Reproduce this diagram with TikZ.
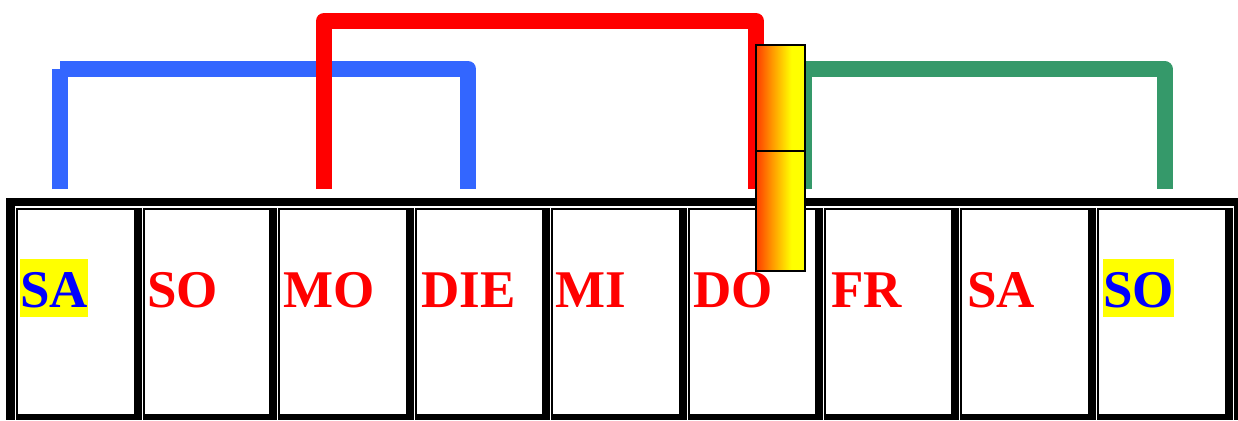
\documentclass[tikz,border=0pt]{standalone}
\usepackage{fontspec}
\setmainfont{Liberation Serif}
\usetikzlibrary{positioning}
\definecolor{barblue}{RGB}{51,102,255}
\definecolor{barred}{RGB}{255,0,0}
\definecolor{bargreen}{RGB}{53,153,106}
\definecolor{firered}{RGB}{255,60,0}
\definecolor{fireorange}{RGB}{255,150,0}
\definecolor{markyellow}{RGB}{255,255,0}
\definecolor{markblue}{RGB}{0,0,255}
\pgfdeclarehorizontalshading{fire}{100bp}{color(0bp)=(firered); color(25bp)=(firered); color(41bp)=(fireorange); color(61bp)=(yellow); color(100bp)=(yellow)}

\begin{document}
\begin{tikzpicture}[
    x=1pt, y=-1pt,
    daybar/.style={line width=16pt, line join=round},
    day/.style={anchor=base west, inner sep=0pt, text height=48pt, text depth=10pt, font=\fontsize{53}{60}\selectfont\bfseries, text=red},
    weekend/.style={day, fill=markyellow, text=markblue},
    slider/.style={draw=black, line width=1.3pt, shade, shading=fire, minimum width=49pt, inner sep=0pt, outer sep=0pt}
]
\useasboundingbox (0,0) rectangle (1238,420);
\fill[black] (6,198) rectangle (1238,420);
\fill[white] (15,206.3) rectangle (1234.2,420);
\foreach \l/\r in {16/142,143/277,278/414,415/550,551/687,688/823,824/959,960/1096,1097/1233}{
    \fill[black] (\l,207.5) rectangle (\r,420);
    \fill[white] (\l+2,210) rectangle (\r-8.5,414);
}
\node[weekend] (day_sa_1) at (20,307) {SA};
\node[day] (day_so_1) at (147,307) {SO};
\node[day] (day_mo) at (283,307) {MO};
\node[day] (day_die) at (421,307) {DIE};
\node[day] (day_mi) at (555,307) {MI};
\node[day] (day_do) at (693,307) {DO};
\node[day] (day_fr) at (831,307) {FR};
\node[day] (day_sa_2) at (967,307) {SA};
\node[weekend] (day_so_2) at (1103,307) {SO};
\coordinate (blue_start) at (60,189);
\coordinate (blue_end) at (468,189);
\coordinate (red_start) at (324,189);
\coordinate (red_end) at (756,189);
\coordinate (green_start) at (804,189);
\coordinate (green_end) at (1164.5,189);
\draw[daybar, barblue] (blue_start) -- ++(0,-120);
\draw[daybar, barblue] (blue_start) ++(0,-120) -| (blue_end);
\draw[daybar, bargreen] (green_start) -- ++(0,-120) -| (green_end);
\draw[daybar, barred] (red_start) -- ++(0,-168) -| (red_end);
\node[slider, minimum height=106pt] (slider_top) at (780.5,98) {};
\node[slider, minimum height=120pt, below=0pt of slider_top] (slider_bottom) {};
\end{tikzpicture}
\end{document}
